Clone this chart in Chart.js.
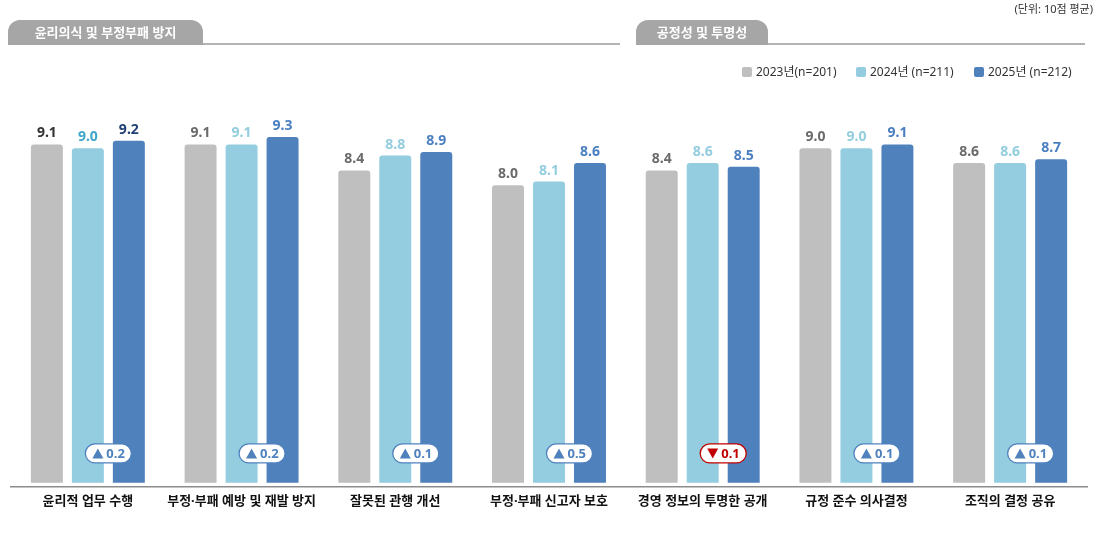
<!DOCTYPE html>
<html><head><meta charset="utf-8">
<script src="https://cdn.jsdelivr.net/npm/chart.js@4.4.1/dist/chart.umd.min.js"></script>
<style>
html,body{margin:0;padding:0;background:#fff;}
#wrap{position:relative;width:1106px;height:537px;font-family:"Noto Sans","Noto Sans CJK KR",sans-serif;}
#c{position:absolute;left:0;top:0;}
.tab{position:absolute;top:20px;height:25px;background:#a6a6a6;border-radius:12px 12px 0 0;color:#fff;font-weight:700;font-size:13px;line-height:25px;text-align:center;}
.rule{position:absolute;top:43px;height:2px;background:#b3b3b3;}
.unit{position:absolute;right:13px;top:0px;font-size:11px;color:#333;}
.leg{position:absolute;top:62px;font-size:12px;color:#333;white-space:nowrap;}
.leg i{display:inline-block;width:10px;height:10px;border-radius:2px;vertical-align:-1px;margin-right:4px;}
</style></head>
<body>
<div id="wrap">
<canvas id="c" width="1106" height="537"></canvas>
<div class="tab" style="left:8px;width:195px;">윤리의식 및 부정부패 방지</div>
<div class="rule" style="left:203px;width:417px;"></div>
<div class="tab" style="left:636px;width:132px;">공정성 및 투명성</div>
<div class="rule" style="left:768px;width:317px;"></div>
<div class="unit">(단위: 10점 평균)</div>
<div id="legend"></div>
</div>
<script>
const categories = ['윤리적 업무 수행','부정·부패 예방 및 재발 방지','잘못된 관행 개선','부정·부패 신고자 보호','경영 정보의 투명한 공개','규정 준수 의사결정','조직의 결정 공유'];
const seriesNames = ['2023년(n=201)','2024년 (n=211)','2025년 (n=212)'];
const v2023 = [9.1,9.1,8.4,8.0,8.4,9.0,8.6];
const v2024 = [9.0,9.1,8.8,8.1,8.6,9.0,8.6];
const v2025 = [9.2,9.3,8.9,8.6,8.5,9.1,8.7];
const change = [0.2,0.2,0.1,0.5,-0.1,0.1,0.1];

const barColors = ['#bfbfbf','#93cddf','#4f81bd'];
const labelColors = ['#6b6b6b','#93cddf','#4a7fc0'];
const labelColorsHi = ['#333333','#3fa6c9','#1f3f75'];
const upColor = '#4f81bd', downColor = '#c00000';

// legend (HTML)
const legPos = [742, 856, 974];
const legEl = document.getElementById('legend');
seriesNames.forEach((n,i)=>{
  const d=document.createElement('div');d.className='leg';d.style.left=legPos[i]+'px';
  d.innerHTML='<i style="background:'+barColors[i]+'"></i>'+n;legEl.appendChild(d);
});

const FONT = '"Noto Sans","Noto Sans CJK KR",sans-serif';

const labelPlugin = {
  id:'labels',
  afterDatasetsDraw(chart){
    const ctx=chart.ctx;
    ctx.save();
    ctx.font='700 14px '+FONT;
    ctx.textAlign='center';ctx.textBaseline='bottom';
    chart.data.datasets.forEach((ds,di)=>{
      const meta=chart.getDatasetMeta(di);
      meta.data.forEach((el,i)=>{
        ctx.fillStyle = i===0 ? labelColorsHi[di] : labelColors[di];
        ctx.fillText(ds.data[i].toFixed(1), el.x, el.y-4);
      });
    });
    // badges
    const m1=chart.getDatasetMeta(1), m2=chart.getDatasetMeta(2);
    const cy=chart.chartArea.bottom-33;
    change.forEach((c,i)=>{
      const cx=(m1.data[i].x+m2.data[i].x)/2;
      const col=c<0?downColor:upColor;
      const w=46,h=19,r=9.5,x=cx-w/2,y=cy-h/2;
      ctx.beginPath();
      ctx.roundRect(x,y,w,h,r);
      ctx.fillStyle='#fff';ctx.fill();
      ctx.lineWidth=1.3;ctx.strokeStyle=col;ctx.stroke();
      ctx.beginPath();
      const tx=x+7, tw=11, th=10;
      if(c>=0){ctx.moveTo(tx,cy+th/2);ctx.lineTo(tx+tw,cy+th/2);ctx.lineTo(tx+tw/2,cy-th/2);}
      else {ctx.moveTo(tx,cy-th/2);ctx.lineTo(tx+tw,cy-th/2);ctx.lineTo(tx+tw/2,cy+th/2);}
      ctx.closePath();ctx.fillStyle=col;ctx.fill();
      ctx.font='700 13px '+FONT;ctx.textAlign='left';ctx.textBaseline='middle';
      ctx.fillText(Math.abs(c).toFixed(1), x+21, cy+1);
    });
    ctx.restore();
  }
};

new Chart(document.getElementById('c'),{
  type:'bar',
  data:{labels:categories,datasets:[v2023,v2024,v2025].map((d,i)=>({
    label:seriesNames[i],data:d,backgroundColor:barColors[i],
    borderRadius:{topLeft:3,topRight:3,bottomLeft:0,bottomRight:0},borderSkipped:'bottom',
    categoryPercentage:0.8,barPercentage:0.78
  }))},
  options:{
    responsive:false,animation:false,devicePixelRatio:1,
    layout:{padding:{left:11,right:19,top:111,bottom:21}},
    plugins:{legend:{display:false},tooltip:{enabled:false}},
    scales:{
      y:{display:false,min:-0.1,max:10},
      x:{grid:{display:false,drawTicks:false},border:{display:true,color:'#8c8c8c',width:1.5},
         ticks:{color:'#111',font:{family:FONT,size:13,weight:'700'},padding:7,maxRotation:0,autoSkip:false}}
    }
  },
  plugins:[labelPlugin]
});
</script>
</body></html>
